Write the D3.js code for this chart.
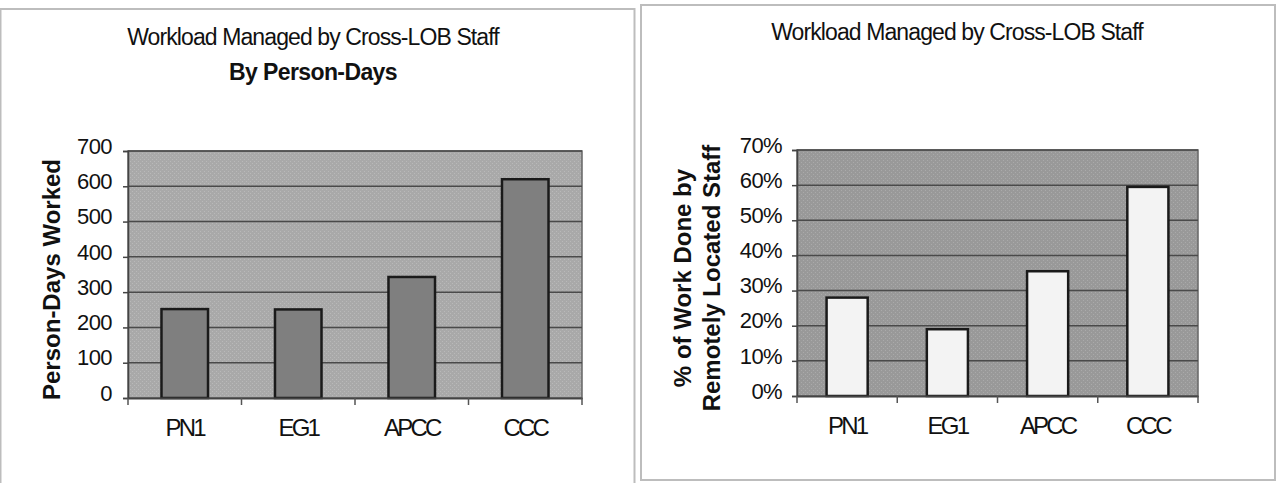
<!DOCTYPE html>
<html>
<head>
<meta charset="utf-8">
<script src="https://cdn.jsdelivr.net/npm/d3@7"></script>
<style>
  body { margin: 0; background: #fff; }
  svg { display: block; font-family: "Liberation Sans", Arial, sans-serif; }
</style>
</head>
<body>
<svg id="chart" width="1278" height="483"></svg>
<script>
// categories, shared by both panels
let categories = ["PN1", "EG1", "APCC", "CCC"];

// left panel: person-days worked
let personDays = [252, 251, 343, 620];
let daysTicks = [0, 100, 200, 300, 400, 500, 600, 700];

// right panel: share of work done remotely
let remoteShare = [0.28, 0.19, 0.355, 0.595];
let shareTicks = [0, 0.1, 0.2, 0.3, 0.4, 0.5, 0.6, 0.7];

let svg = d3.select("#chart");

// panel frames
svg.append("rect").attr("x", 0.5).attr("y", 9).attr("width", 634).attr("height", 480)
  .attr("fill", "none").attr("stroke", "#bdbdbd").attr("stroke-width", 2);
svg.append("rect").attr("x", 641).attr("y", 5).attr("width", 634).attr("height", 475)
  .attr("fill", "none").attr("stroke", "#bdbdbd").attr("stroke-width", 2);

// stipple pattern for the plot backgrounds
function makePattern(id, base, dot) {
  let p = svg.append("defs").append("pattern")
    .attr("id", id).attr("width", 4).attr("height", 4)
    .attr("patternUnits", "userSpaceOnUse");
  p.append("rect").attr("width", 4).attr("height", 4).attr("fill", base);
  p.append("rect").attr("x", 0).attr("y", 0).attr("width", 1).attr("height", 1).attr("fill", dot);
  p.append("rect").attr("x", 2).attr("y", 2).attr("width", 1).attr("height", 1).attr("fill", dot);
}
makePattern("bgLeft", "#a9a9a9", "#b9b9b9");
makePattern("bgRight", "#999999", "#aaaaaa");

function drawPanel(opt) {
  let g = svg.append("g").attr("transform", `translate(${opt.left}, ${opt.top})`);
  let width = opt.width, height = opt.height;

  let x = d3.scaleBand().domain(categories).range([0, width]).paddingInner(0).paddingOuter(0);
  let y = d3.scaleLinear().domain([0, d3.max(opt.ticks)]).range([height, 0]);

  // plot area
  g.append("rect").attr("width", width).attr("height", height)
    .attr("fill", `url(#${opt.pattern})`).attr("stroke", "#666").attr("stroke-width", 1.5);

  // gridlines
  g.append("g").selectAll("line")
    .data(opt.ticks.slice(1))
    .enter()
    .append("line")
    .attr("x1", 0).attr("x2", width)
    .attr("y1", d => y(d)).attr("y2", d => y(d))
    .attr("stroke", "#4a4a4a").attr("stroke-width", 1.5);

  // bars
  let barW = x.bandwidth() * opt.barFrac;
  g.append("g").selectAll("rect")
    .data(opt.values)
    .enter()
    .append("rect")
    .attr("x", (d, i) => x(categories[i]) + (x.bandwidth() - barW) / 2)
    .attr("y", d => y(d))
    .attr("width", barW)
    .attr("height", d => height - y(d))
    .attr("fill", opt.barColor)
    .attr("stroke", "#1a1a1a").attr("stroke-width", 2.5);

  // y axis
  let yAxis = g.append("g")
    .call(d3.axisLeft(y).tickValues(opt.ticks).tickFormat(opt.format).tickSize(5).tickPadding(opt.tickPad));
  yAxis.attr("font-size", null).attr("font-family", null);
  yAxis.select(".domain").attr("stroke", "#444").attr("stroke-width", 1.5);
  yAxis.selectAll(".tick line").attr("stroke", "#444").attr("stroke-width", 1.5);
  yAxis.selectAll(".tick text")
    .attr("font-size", "22px")
    .attr("fill", "#111")
    .attr("dy", "0.1em")
    .style("letter-spacing", "-0.6px");

  // x axis, ticks between the categories
  let xAxis = g.append("g")
    .attr("transform", `translate(0, ${height})`)
    .call(d3.axisBottom(x).tickSize(0).tickPadding(21));
  xAxis.attr("font-size", null).attr("font-family", null);
  xAxis.select(".domain").attr("stroke", "#444").attr("stroke-width", 2);
  xAxis.selectAll(".tick text")
    .attr("font-size", "24px")
    .attr("fill", "#111")
    .style("letter-spacing", "-2.8px");
  xAxis.append("g").selectAll("line")
    .data(categories.map(c => x(c)).concat([width]))
    .enter()
    .append("line")
    .attr("x1", d => d).attr("x2", d => d)
    .attr("y1", 0).attr("y2", 7)
    .attr("stroke", "#555").attr("stroke-width", 1.5);

  // titles
  opt.titles.forEach(t => {
    svg.append("text")
      .attr("x", opt.titleX).attr("y", t.y)
      .attr("text-anchor", "middle")
      .attr("font-size", "23px")
      .attr("font-weight", t.bold ? "bold" : "normal")
      .style("letter-spacing", t.bold ? "-0.6px" : "-0.9px")
      .attr("fill", "#111")
      .text(t.text);
  });

  // y label
  opt.yLabel.forEach(l => {
    svg.append("text")
      .attr("transform", `translate(${l.x}, ${opt.top + height / 2 + 5}) rotate(-90)`)
      .attr("text-anchor", "middle")
      .attr("font-size", "24px")
      .attr("font-weight", "bold")
      .attr("fill", "#111")
      .text(l.text);
  });
}

drawPanel({
  left: 128, top: 151, width: 454, height: 247,
  values: personDays, ticks: daysTicks,
  format: d3.format("d"), tickPad: 11,
  pattern: "bgLeft", barColor: "#7f7f7f", barFrac: 0.41,
  titleX: 313,
  titles: [{ text: "Workload Managed by Cross-LOB Staff", y: 45 },
           { text: "By Person-Days", y: 80, bold: true }],
  yLabel: [{ text: "Person-Days Worked", x: 60 }]
});

drawPanel({
  left: 797, top: 150, width: 401, height: 246,
  values: remoteShare, ticks: shareTicks,
  format: d3.format(".0%"), tickPad: 10,
  pattern: "bgRight", barColor: "#f3f3f3", barFrac: 0.41,
  titleX: 957,
  titles: [{ text: "Workload Managed by Cross-LOB Staff", y: 40 }],
  yLabel: [{ text: "% of Work Done by", x: 691 },
           { text: "Remotely Located Staff", x: 720 }]
});
</script>
</body>
</html>
